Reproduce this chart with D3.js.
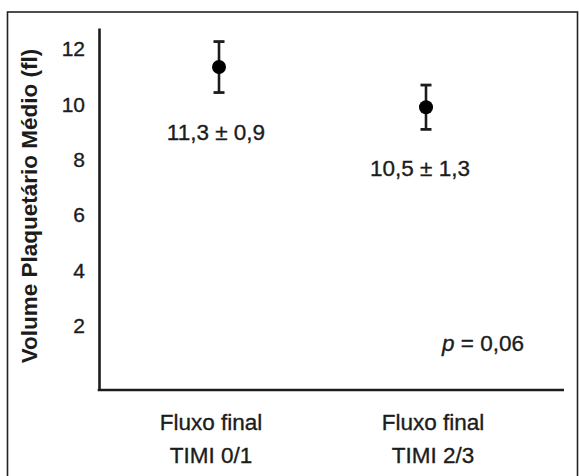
<!DOCTYPE html>
<html>
<head>
<meta charset="utf-8">
<script src="https://cdn.jsdelivr.net/npm/d3@7"></script>
<style>
  body { margin: 0; background: #fff; }
  svg { display: block; font-family: "Liberation Sans", Arial, sans-serif; }
  .heavy { stroke: #1c1c1c; stroke-width: 0.35; }
</style>
</head>
<body>
<svg id="chart"></svg>
<script>
// data
const groups = ["TIMI 0/1", "TIMI 2/3"];
const groupLines = [["Fluxo final", "TIMI 0/1"], ["Fluxo final", "TIMI 2/3"]];
const means = [11.35, 9.9];
const errors = [0.92, 0.8];
const annotations = ["11,3 \u00b1 0,9", "10,5 \u00b1 1,3"];
const yTicks = [2, 4, 6, 8, 10, 12];
const pText = "0,06";

const width = 579, height = 476;
const ink = "#1c1c1c";

const svg = d3.select("svg#chart").attr("width", width).attr("height", height);

// outer frame (bottom edge runs off the picture)
svg.append("rect")
  .attr("x", 7.5).attr("y", 12)
  .attr("width", 570).attr("height", 480)
  .attr("fill", "none")
  .attr("stroke", "#222")
  .attr("stroke-width", 1.6);

const yScale = d3.scaleLinear().domain([-0.31, 12.76]).range([390, 28]);
const xScale = d3.scalePoint().domain(groups).range([219, 426]);
const axisLeftX = 99, axisRightX = 564;

// y axis, labels only, no tick marks
const yAxis = svg.append("g")
  .attr("transform", `translate(${axisLeftX},0)`)
  .call(d3.axisLeft(yScale).tickValues(yTicks).tickSize(0).tickSizeOuter(0).tickPadding(14));
yAxis.select(".domain").attr("stroke", ink).attr("stroke-width", 2.6);
yAxis.selectAll("text")
  .attr("class", "heavy")
  .attr("font-size", 21)
  .attr("font-family", "Liberation Sans, Arial, sans-serif")
  .attr("fill", ink);

// x axis line
svg.append("line")
  .attr("x1", axisLeftX - 1.3).attr("x2", axisRightX)
  .attr("y1", yScale.range()[0]).attr("y2", yScale.range()[0])
  .attr("stroke", ink)
  .attr("stroke-width", 2.6);

// y title
svg.append("text")
  .attr("transform", `translate(37,${(yScale(12.4) + yScale(-0.31)) / 2 - 8}) rotate(-90)`)
  .attr("text-anchor", "middle")
  .attr("font-size", 22.5)
  .attr("font-weight", "bold")
  .attr("fill", ink)
  .text("Volume Plaquetário Médio (fl)");

// category labels
const labelShift = [-8, 7];
const cat = svg.append("g").selectAll("text")
  .data(groupLines)
  .join("text")
  .attr("class", "heavy")
  .attr("text-anchor", "middle")
  .attr("font-size", 22.5)
  .attr("fill", ink)
  .attr("x", (d, i) => xScale(groups[i]) + labelShift[i]);
cat.append("tspan").attr("x", function () { return d3.select(this.parentNode).attr("x"); })
  .attr("y", 429.5).text(d => d[0]);
cat.append("tspan").attr("x", function () { return d3.select(this.parentNode).attr("x"); })
  .attr("y", 463).text(d => d[1]);

// error bars
const pts = means.map((m, i) => ({ g: groups[i], mean: m, err: errors[i], label: annotations[i] }));
const bars = svg.append("g").selectAll("g").data(pts).join("g");
bars.append("line")
  .attr("x1", d => xScale(d.g)).attr("x2", d => xScale(d.g))
  .attr("y1", d => yScale(d.mean + d.err)).attr("y2", d => yScale(d.mean - d.err))
  .attr("stroke", ink).attr("stroke-width", 2.6);
[1, -1].forEach(s => {
  bars.append("line")
    .attr("x1", d => xScale(d.g) - 5.5).attr("x2", d => xScale(d.g) + 5.5)
    .attr("y1", d => yScale(d.mean + s * d.err)).attr("y2", d => yScale(d.mean + s * d.err))
    .attr("stroke", ink).attr("stroke-width", 2.8);
});
bars.append("circle")
  .attr("cx", d => xScale(d.g))
  .attr("cy", d => yScale(d.mean))
  .attr("r", 7)
  .attr("fill", "#000");

// mean ± sd annotations
bars.append("text")
  .attr("class", "heavy")
  .attr("x", (d, i) => xScale(d.g) - 3 - i * 3)
  .attr("y", d => yScale(d.mean - d.err) + 47)
  .attr("text-anchor", "middle")
  .attr("font-size", 22.5)
  .attr("fill", ink)
  .text(d => d.label);

// p value
const pLabel = svg.append("text")
  .attr("class", "heavy")
  .attr("x", axisRightX - 40)
  .attr("y", yScale(1.1))
  .attr("text-anchor", "end")
  .attr("font-size", 22.5)
  .attr("fill", ink);
pLabel.append("tspan").attr("font-style", "italic").text("p");
pLabel.append("tspan").text(" = " + pText);
</script>
</body>
</html>
